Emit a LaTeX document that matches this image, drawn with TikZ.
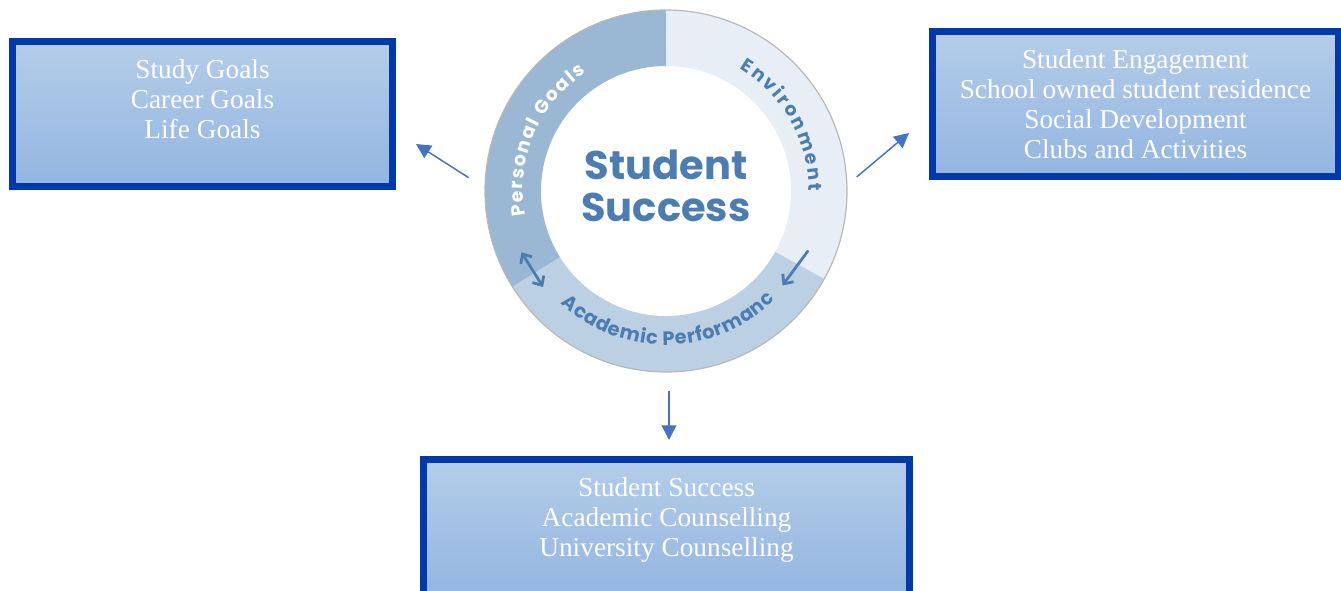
\documentclass[tikz,border=0pt]{standalone}
\usepackage{fontspec}
\setmainfont{Liberation Serif}
\newfontfamily\ringfont{Poppins}
\usetikzlibrary{positioning,calc,arrows.meta,decorations.text}

\definecolor{boxblue}{HTML}{0039AA}
\definecolor{boxtop}{HTML}{B4CDE9}
\definecolor{boxbottom}{HTML}{93B5E1}
\definecolor{linkblue}{HTML}{4472C4}
\definecolor{ringtext}{HTML}{4B7DB1}
\definecolor{pgfill}{HTML}{9AB7D3}
\definecolor{envfill}{HTML}{E8EEF6}
\definecolor{apfill}{HTML}{BCD0E3}

\begin{document}
\begin{tikzpicture}[
		x=0.75pt, y=0.75pt,
		goalbox/.style={draw=boxblue, line width=5.25pt, top color=boxtop, bottom color=boxbottom, inner sep=0pt},
		goaltext/.style={align=center, text=white, font=\fontsize{20.5}{22.5}\selectfont, inner sep=0pt, anchor=north},
		link/.style={draw=linkblue, line width=1.1pt, -{Triangle[length=11pt,width=11pt]}},
		ringarrow/.style={draw=ringtext, line width=2.1pt, line cap=round},
		barb/.tip={Straight Barb[length=5.5pt,width=10pt]}
		]
		\useasboundingbox (0,0) rectangle (1341,590);
		
		% ring
		\coordinate (ctr) at (666,399);
		\foreach \from/\to/\col in {90/212/pgfill, 212/331/apfill, -29/90/envfill}
		\fill[\col] ($(ctr)+(\from:181)$) arc[start angle=\from, end angle=\to, radius=181]
		-- ($(ctr)+(\to:125)$) arc[start angle=\to, end angle=\from, radius=125] -- cycle;
		\node[circle, draw=black!28, line width=0.9pt, minimum size=271.5pt, inner sep=0pt] (ring) at (ctr) {};
		
		\node[font=\ringfont\bfseries\fontsize{30}{31.5}\selectfont, text=ringtext, align=center] (title) at (666,404) {Student\\Success};
		
		\path[decorate, decoration={text along path, text color=white, text align=fit to path,
			text={|\ringfont\bfseries\fontsize{14}{14}\selectfont|Personal Goals}}]
		($(ctr)+(190:143)$) arc[start angle=190, end angle=124, radius=143];
		\path[decorate, decoration={text along path, text color=ringtext, text align=fit to path,
			text={|\ringfont\bfseries\fontsize{14}{14}\selectfont|Environment}}]
		($(ctr)+(59:143)$) arc[start angle=59, end angle=0, radius=143];
		\path[decorate, decoration={text along path, text color=ringtext, text align=fit to path,
			text={|\ringfont\bfseries\fontsize{14.5}{14.5}\selectfont|Academic Performanc}}]
		($(ctr)+(227:154)$) arc[start angle=227, end angle=315, radius=154];
		
		\coordinate (pgend) at ($(ctr)+(203:157)$);
		\coordinate (apend) at ($(ctr)+(218:156)$);
		\draw[ringarrow, barb-barb] (pgend) -- (apend);
		\coordinate (envend) at ($(ctr)+(-23:154)$);
		\coordinate (apend2) at ($(ctr)+(-39:150)$);
		\draw[ringarrow, -barb] (envend) -- (apend2);
		
		% boxes
		\node[goalbox, minimum width=285pt, minimum height=108.75pt] (pgbox) at (202.5,476) {};
		\node[goaltext, below=16pt of pgbox.north] (pgtext) {Study Goals\\Career Goals\\Life Goals};
		
		\node[goalbox, minimum width=304.5pt, minimum height=108.75pt] (envbox) at (1135.5,486) {};
		\node[goaltext, below=16pt of envbox.north] (envtext) {Student Engagement\\School owned student residence\\Social Development\\Clubs and Activities};
		
		\node[goalbox, minimum width=364.5pt, minimum height=102.4pt] (apbox) at (666.5,62.25) {};
		\node[goaltext, below=16pt of apbox.north] (aptext) {Student Success\\Academic Counselling\\University Counselling};
		
		% links
		\coordinate (pgtip) at (416,446);
		\coordinate (envtip) at (909,457);
		\coordinate (aptip) at (669,150);
		\draw[link, shorten <=14pt] (ring.179) -- (pgtip);
		\draw[link, shorten <=9pt] (ring.2) -- (envtip);
		\draw[link, shorten <=13.5pt] (ring.south -| aptip) -- (aptip);
		
	\end{tikzpicture}
\end{document}
